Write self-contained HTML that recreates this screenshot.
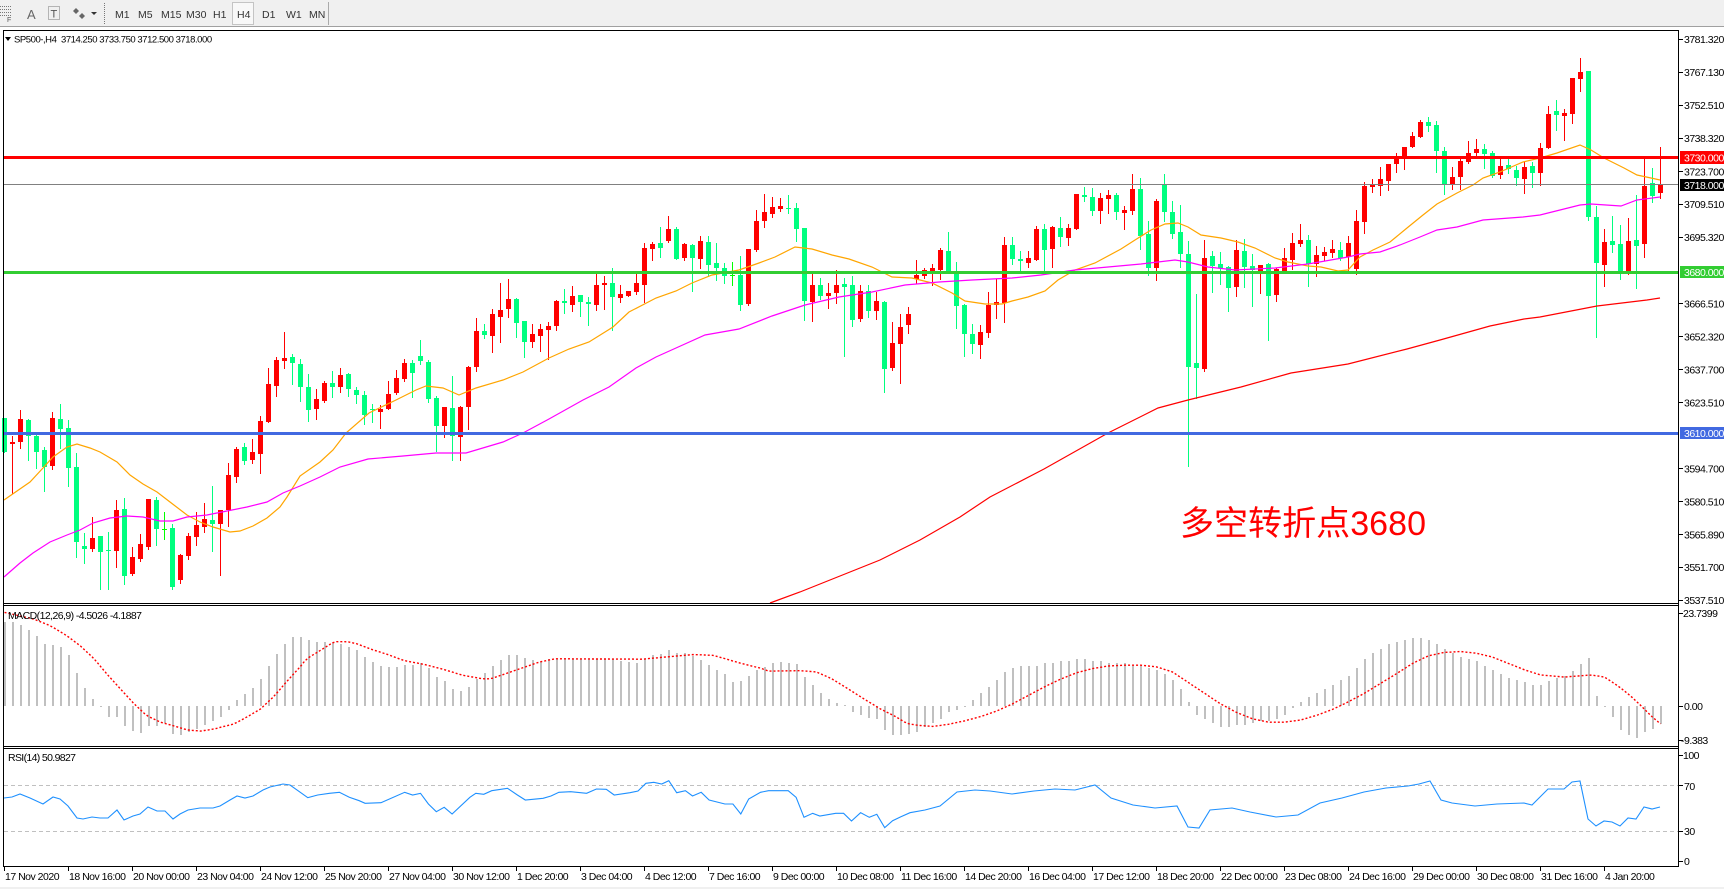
<!DOCTYPE html>
<html><head><meta charset="utf-8">
<style>
html,body{margin:0;padding:0;background:#fff;}
body{width:1724px;height:889px;overflow:hidden;}
svg text{font-family:"Liberation Sans",sans-serif;}
.ax{font-size:10.5px;letter-spacing:-0.5px;fill:#000;}
.tb{font-size:10.5px;fill:#333;}
.hd{font-size:9.5px;letter-spacing:-0.45px;fill:#000;}
</style></head><body>
<svg id="s" width="1724" height="889" viewBox="0 0 1724 889" xmlns="http://www.w3.org/2000/svg">
<rect width="1724" height="889" fill="#fff"/>
<!-- toolbar -->
<rect x="0" y="0" width="1724" height="26" fill="#f0f0f0"/>
<rect x="0" y="26" width="1724" height="1" fill="#a0a0a0"/>
<g stroke="#777" stroke-width="1" stroke-dasharray="1 1" shape-rendering="crispEdges">
<line x1="0" y1="6.5" x2="11" y2="6.5"/><line x1="0" y1="9.5" x2="11" y2="9.5"/><line x1="0" y1="12.5" x2="11" y2="12.5"/><line x1="0" y1="15.5" x2="11" y2="15.5"/>
<rect x="48.5" y="6.5" width="11" height="13" fill="none"/>
<line x1="104.5" y1="3" x2="104.5" y2="24"/>
</g>
<text x="7" y="22" font-size="7" fill="#555">F</text>
<text x="27" y="19" font-size="13" fill="#666">A</text>
<text x="50.5" y="17.5" font-size="11" fill="#555">T</text>
<polygon points="76,8 79,11 76,14 73,11" fill="#666"/><polygon points="82,13 85,16 82,19 79,16" fill="#666"/>
<polygon points="91,12 97,12 94,15" fill="#333"/>
<rect x="232.5" y="2.5" width="21" height="22" fill="#f8f8f8" stroke="#c4c4c4"/>
<text class="tb" x="115" y="18">M1</text>
<text class="tb" x="138" y="18">M5</text>
<text class="tb" x="161" y="18">M15</text>
<text class="tb" x="186" y="18">M30</text>
<text class="tb" x="213" y="18">H1</text>
<text class="tb" x="237" y="18">H4</text>
<text class="tb" x="262" y="18">D1</text>
<text class="tb" x="286" y="18">W1</text>
<text class="tb" x="309" y="18">MN</text>
<rect x="328" y="2" width="1" height="23" fill="#aaa"/>

<!-- candles -->
<g id="candles" shape-rendering="crispEdges"></g>

<!-- moving averages -->
<g fill="none" stroke-width="1.2">
<polyline stroke="#ffa500" points="4,500 30,482 43,468 53,457 67,447 77,444 90,448 100,452 117,462 130,475 143,484 157,492 170,502 187,515 200,522 213,527 230,532 240,531 253,526 267,518 280,507 287,497 300,476 320,462 333,450 346,433 369,413 396,400 416,390 426,386 443,388 459,395 476,388 503,380 523,372 549,358 569,349 589,342 613,327 629,312 656,298 676,291 692,283 712,275 739,270 759,263 775,257 795,247 812,249 832,255 849,259 872,267 892,277 912,278 932,283 952,293 965,301 985,304 1002,304 1012,301 1028,297 1045,291 1058,280 1075,270 1095,263 1121,249 1135,240 1151,230 1165,224 1178,223 1188,227 1201,235 1221,238 1238,242 1255,248 1275,258 1288,262 1308,266 1321,267 1338,271 1348,270 1360,257 1373,250 1390,242 1407,228 1423,215 1437,204 1457,193 1473,185 1483,178 1500,172 1523,162 1540,158 1557,153 1580,145 1591,150 1604,158 1624,168 1637,175 1651,178 1660,180"/>
<polyline stroke="#ff00ff" points="4,577 20,563 33,553 50,542 67,535 80,530 93,523 110,518 127,516 143,517 160,521 173,521 187,517 207,515 227,511 247,507 267,502 283,493 300,486 320,477 340,467 368,459 403,456 436,453 466,453 503,442 523,433 549,419 583,400 609,387 636,368 656,357 676,348 705,335 739,329 772,316 805,305 839,297 872,292 905,285 939,282 972,280 1012,278 1041,275 1075,270 1108,267 1141,264 1175,260 1188,262 1208,267 1235,270 1275,268 1308,264 1348,257 1360,254 1380,252 1400,245 1420,237 1437,230 1457,227 1483,220 1523,217 1540,215 1560,210 1580,205 1591,204 1621,206 1637,200 1660,197"/>
<polyline stroke="#ff0000" points="770,603 800,592 850,572 880,560 920,540 960,517 990,497 1044,469 1108,433 1158,408 1188,400 1241,387 1291,373 1348,364 1407,349 1440,340 1490,326 1524,319 1540,317 1597,306 1647,300 1660,298"/>
</g>

<!-- horizontal lines -->
<g shape-rendering="crispEdges">
<rect x="4" y="184" width="1674" height="1" fill="#808080"/>
<rect x="4" y="156" width="1674" height="3" fill="#ff0000"/>
<rect x="4" y="271" width="1674" height="3" fill="#32cd32"/>
<rect x="4" y="432" width="1674" height="3" fill="#4169e1"/>
</g>

<text x="1180" y="535" font-size="34" fill="#ff0000" textLength="246" style='font-family:"Liberation Sans","Noto Sans CJK SC",sans-serif'>多空转折点3680</text>

<!-- MACD -->
<g id="hist" shape-rendering="crispEdges"></g>
<polyline id="sig" fill="none" stroke="#ff0000" stroke-width="1.4" stroke-dasharray="2 2" points=""/>
<text x="8" y="619" font-size="10.5" textLength="134" fill="#000">MACD(12,26,9) -4.5026 -4.1887</text>

<!-- RSI -->
<g stroke="#c0c0c0" stroke-dasharray="4 3" shape-rendering="crispEdges">
<line x1="4" y1="785.5" x2="1678" y2="785.5"/>
<line x1="4" y1="831.5" x2="1678" y2="831.5"/>
</g>
<polyline fill="none" stroke="#1e90ff" stroke-width="1.1" points="4,798 12,797 20,794 30,798 43,804 53,797 60,799 68,806 77,818 83,819 92,817 100,818 108,818 117,810 124,820 133,816 140,814 148,807 157,811 165,811 173,819 180,814 188,810 200,808 213,808 220,806 230,800 237,796 245,798 253,796 263,790 270,787 283,784 290,785 298,790.7 307.8,797.7 317.7,795 329.5,793.3 339.4,792.3 349.3,797.3 359.2,800.7 365.1,803.3 381,802.7 404.7,792.3 412.6,795 420.5,793.3 428.4,804 436.3,811.7 444.2,807.3 452.1,814 469.9,797.3 475.8,793.3 483.8,794.3 491.7,790.7 507.5,788.3 517.4,795 525.3,800 543.1,798.3 551,796 558.9,792.3 570.7,791.7 586.6,793.3 596.4,789 606.3,789.3 614.2,795 630,792.7 638,791 645.9,783.3 653.8,782.3 661.7,784 668.8,780.7 676.7,792.7 685.4,790.7 692.5,796 701.2,792.3 709.1,800 724.9,804 732.9,804 740.8,814 748.7,799 760.5,792.3 768.5,790.7 788.2,790.7 796.1,797.3 804,817.3 812.7,813.3 819.8,816 835.7,813.3 843.6,813.3 851.5,821 860.6,812.7 869.3,817.3 876.8,814.3 884.7,827.7 892.6,820.7 900.9,816.7 910,812.7 925,810 940,806 957,792 975,790 990,791 1012,794 1034,791 1055,789 1075,790 1095,785 1111,798 1133,805 1155,808 1177,806 1188,827 1199,828 1210,810 1232,808 1250,812 1276,817 1298,815 1320,803 1342,798 1364,792 1386,788 1408,786 1419,784 1430,781 1441,800 1452,803 1475,806 1497,804 1524,803 1532,805 1548,789 1564,789 1572,782 1580,781 1588,819 1596,826 1604,821 1612,822 1620,826 1628,818 1636,819 1644,807 1652,809 1660,807"/>
<text x="8" y="761" font-size="10.5" textLength="68" fill="#000">RSI(14) 50.9827</text>

<!-- frames -->
<g fill="#000" shape-rendering="crispEdges">
<rect x="3" y="30" width="1676" height="1"/>
<rect x="3" y="30" width="1" height="837"/>
<rect x="1678" y="30" width="1" height="837"/>
<rect x="3" y="603" width="1676" height="1"/>
<rect x="3" y="605" width="1676" height="1"/>
<rect x="3" y="746" width="1676" height="1"/>
<rect x="3" y="748" width="1676" height="1"/>
<rect x="3" y="866" width="1676" height="1"/>
</g>

<!-- header -->
<polygon points="5,37 11,37 8,41" fill="#000"/>
<text class="hd" x="14" y="42.5">SP500-,H4</text>
<text class="hd" x="61" y="42.5">3714.250 3733.750 3712.500 3718.000</text>

<!-- price axis -->
<g fill="#000" shape-rendering="crispEdges">
<rect x="1679" y="39" width="4" height="1"/><rect x="1679" y="72" width="4" height="1"/><rect x="1679" y="105" width="4" height="1"/><rect x="1679" y="138" width="4" height="1"/><rect x="1679" y="171" width="4" height="1"/><rect x="1679" y="204" width="4" height="1"/><rect x="1679" y="237" width="4" height="1"/><rect x="1679" y="303" width="4" height="1"/><rect x="1679" y="336" width="4" height="1"/><rect x="1679" y="369" width="4" height="1"/><rect x="1679" y="402" width="4" height="1"/><rect x="1679" y="468" width="4" height="1"/><rect x="1679" y="501" width="4" height="1"/><rect x="1679" y="534" width="4" height="1"/><rect x="1679" y="567" width="4" height="1"/><rect x="1679" y="600" width="4" height="1"/>
<rect x="1679" y="613" width="4" height="1"/><rect x="1679" y="706" width="4" height="1"/><rect x="1679" y="740" width="4" height="1"/>
<rect x="1679" y="755" width="4" height="1"/><rect x="1679" y="785" width="4" height="1"/><rect x="1679" y="831" width="4" height="1"/><rect x="1679" y="861" width="4" height="1"/>
</g>
<g class="ax">
<text class="ax" x="1684" y="43">3781.320</text>
<text class="ax" x="1684" y="76">3767.130</text>
<text class="ax" x="1684" y="109">3752.510</text>
<text class="ax" x="1684" y="142">3738.320</text>
<text class="ax" x="1684" y="175.5">3723.700</text>
<text class="ax" x="1684" y="208">3709.510</text>
<text class="ax" x="1684" y="241">3695.320</text>
<text class="ax" x="1684" y="307.5">3666.510</text>
<text class="ax" x="1684" y="340.5">3652.320</text>
<text class="ax" x="1684" y="373.5">3637.700</text>
<text class="ax" x="1684" y="406.5">3623.510</text>
<text class="ax" x="1684" y="472.5">3594.700</text>
<text class="ax" x="1684" y="505.5">3580.510</text>
<text class="ax" x="1684" y="538.5">3565.890</text>
<text class="ax" x="1684" y="571">3551.700</text>
<text class="ax" x="1684" y="604">3537.510</text>
<text class="ax" x="1683" y="617">23.7399</text>
<text class="ax" x="1684" y="710">0.00</text>
<text class="ax" x="1681" y="744">-9.383</text>
<text class="ax" x="1683" y="759">100</text>
<text class="ax" x="1684" y="790">70</text>
<text class="ax" x="1684" y="835">30</text>
<text class="ax" x="1684" y="865">0</text>
</g>
<g shape-rendering="crispEdges">
<rect x="1680" y="151" width="44" height="13" fill="#ff0000"/>
<rect x="1680" y="179" width="44" height="12" fill="#000"/>
<rect x="1680" y="266" width="44" height="12" fill="#32cd32"/>
<rect x="1680" y="427" width="44" height="12" fill="#4169e1"/>
</g>
<text class="ax" x="1684" y="161.5" style="fill:#fff">3730.000</text>
<text class="ax" x="1684" y="189" style="fill:#fff">3718.000</text>
<text class="ax" x="1684" y="276" style="fill:#fff">3680.000</text>
<text class="ax" x="1684" y="437" style="fill:#fff">3610.000</text>

<!-- time axis -->
<g id="tticks" fill="#000" shape-rendering="crispEdges"></g>
<text class="ax" x="5" y="880">17 Nov 2020</text>
<text class="ax" x="69" y="880">18 Nov 16:00</text>
<text class="ax" x="133" y="880">20 Nov 00:00</text>
<text class="ax" x="197" y="880">23 Nov 04:00</text>
<text class="ax" x="261" y="880">24 Nov 12:00</text>
<text class="ax" x="325" y="880">25 Nov 20:00</text>
<text class="ax" x="389" y="880">27 Nov 04:00</text>
<text class="ax" x="453" y="880">30 Nov 12:00</text>
<text class="ax" x="517" y="880">1 Dec 20:00</text>
<text class="ax" x="581" y="880">3 Dec 04:00</text>
<text class="ax" x="645" y="880">4 Dec 12:00</text>
<text class="ax" x="709" y="880">7 Dec 16:00</text>
<text class="ax" x="773" y="880">9 Dec 00:00</text>
<text class="ax" x="837" y="880">10 Dec 08:00</text>
<text class="ax" x="901" y="880">11 Dec 16:00</text>
<text class="ax" x="965" y="880">14 Dec 20:00</text>
<text class="ax" x="1029" y="880">16 Dec 04:00</text>
<text class="ax" x="1093" y="880">17 Dec 12:00</text>
<text class="ax" x="1157" y="880">18 Dec 20:00</text>
<text class="ax" x="1221" y="880">22 Dec 00:00</text>
<text class="ax" x="1285" y="880">23 Dec 08:00</text>
<text class="ax" x="1349" y="880">24 Dec 16:00</text>
<text class="ax" x="1413" y="880">29 Dec 00:00</text>
<text class="ax" x="1477" y="880">30 Dec 08:00</text>
<text class="ax" x="1541" y="880">31 Dec 16:00</text>
<text class="ax" x="1605" y="880">4 Jan 20:00</text>
<rect x="0" y="887" width="1724" height="2" fill="#f0f0f0"/>
</svg>
<script>
(function(){
var C=[[1,418,452,418,452],[0,442,444,436,493],[0,419,442,410,448],[1,420,436,419,460],[1,436,452,433,468],[1,450,467,447,491],[0,418,466,412,469],[1,419,429,404,448],[1,428,468,420,486],[1,467,542,453,557],
[1,546,549,533,563],[0,538,549,517,551],[1,536,552,536,589],[1,550,551,532,589],[0,510,551,500,567],[1,509,576,498,584],[0,557,574,547,575],[0,544,559,534,561],[0,499,547,499,549],[1,500,529,497,545],
[2,529,530,512,539],[1,528,587,524,589],[0,555,580,554,583],[0,536,556,533,559],[0,525,537,512,545],[0,519,527,503,532],[1,520,524,486,551],[0,510,524,510,575],[0,475,510,463,526],[0,449,477,447,482],
[1,447,461,443,464],[0,452,460,439,463],[0,421,454,416,473],[0,384,422,368,422],[0,360,386,357,396],[0,358,361,332,368],[1,357,363,354,384],[1,364,387,359,401],[1,387,410,374,421],[0,399,409,389,419],
[0,383,401,381,402],[1,383,387,371,397],[0,375,387,368,392],[1,374,389,373,396],[1,390,395,387,403],[1,395,415,391,424],[1,409,410,404,422],[0,409,412,405,428],[0,394,409,381,409],[0,378,393,370,394],
[0,363,379,359,381],[1,363,373,360,397],[1,356,361,340,364],[1,362,399,360,402],[1,398,426,396,451],[0,407,426,407,437],[1,408,436,376,460],[0,407,437,406,460],[0,367,407,366,429],[0,331,367,318,371],
[1,331,335,324,338],[0,314,336,309,352],[0,310,317,283,342],[0,299,309,279,317],[1,299,323,298,337],[1,321,342,321,357],[0,334,342,324,347],[0,329,336,324,351],[0,326,330,322,359],[0,301,326,300,330],
[1,301,303,289,313],[0,296,305,286,311],[1,295,302,295,316],[1,302,304,297,325],[0,285,305,274,310],[0,283,285,276,309],[1,283,297,268,330],[0,294,298,285,302],[0,291,296,291,296],[0,283,292,273,294],
[0,248,285,243,302],[0,244,249,242,260],[1,243,248,227,257],[0,229,241,216,242],[1,229,259,227,259],[0,244,258,243,260],[1,245,258,244,291],[0,241,259,236,268],[1,242,265,236,276],[1,263,268,243,280],
[1,268,276,263,283],[2,275,276,262,285],[1,275,305,256,310],[0,249,304,249,305],[0,221,250,210,251],[0,212,221,194,227],[0,207,214,197,217],[0,206,209,198,211],[1,208,209,195,213],[1,208,229,203,241],
[1,228,301,228,320],[0,285,302,273,321],[1,285,296,278,299],[0,293,296,283,308],[0,285,293,270,303],[1,284,287,278,356],[1,285,320,276,326],[0,291,319,285,321],[1,291,311,285,317],[0,301,311,292,319],
[1,302,369,301,392],[0,343,368,322,370],[0,327,344,314,383],[0,314,325,307,333],[0,275,279,260,283],[0,270,276,268,278],[0,268,272,264,285],[0,250,270,248,279],[1,251,271,232,272],[1,272,306,262,328],
[1,305,334,304,356],[1,334,344,324,353],[0,332,345,325,358],[0,305,333,292,337],[0,302,305,279,318],[0,245,303,237,322],[1,245,259,237,264],[1,259,261,251,271],[0,258,263,251,267],[0,229,260,226,260],
[1,229,250,224,271],[0,227,249,226,267],[1,228,237,217,246],[0,228,238,224,245],[0,194,229,194,229],[1,195,197,187,201],[1,197,211,188,215],[0,198,211,193,223],[0,195,199,190,213],[1,195,212,193,219],
[0,210,213,206,229],[0,189,211,174,214],[1,189,236,178,249],[1,234,268,221,275],[0,201,268,199,280],[1,184,212,174,221],[1,212,234,201,238],[1,232,254,205,267],[1,254,367,241,466],[1,363,368,294,398],
[0,258,369,240,371],[1,256,266,251,292],[1,264,268,252,284],[1,267,288,266,311],[0,250,287,240,296],[1,251,267,239,287],[1,266,270,254,306],[0,265,271,265,293],[1,264,296,263,340],[0,269,295,268,301],
[0,258,271,248,271],[0,243,260,233,269],[0,240,244,224,246],[1,240,264,235,286],[0,255,264,246,276],[0,252,256,247,260],[0,249,253,240,257],[1,250,258,242,260],[0,243,257,236,273],[0,221,269,210,274],
[0,186,222,182,233],[0,185,187,179,192],[0,179,186,167,195],[0,164,181,164,190],[0,157,164,153,172],[0,147,157,147,169],[0,136,147,132,147],[0,122,137,120,137],[1,122,126,117,131],[1,125,151,121,172],
[1,151,184,147,194],[0,177,184,167,189],[0,161,177,157,189],[0,153,162,141,163],[0,149,153,139,156],[1,149,154,144,168],[1,153,176,151,177],[0,166,175,159,178],[1,165,169,159,173],[1,170,178,166,185],
[0,167,179,162,193],[1,166,173,162,187],[0,148,173,143,185],[0,114,148,106,148],[1,111,115,100,130],[0,113,116,109,140],[0,78,114,78,123],[0,72,79,58,91],[1,71,217,71,220],[1,217,263,206,337],
[0,242,265,229,286],[1,241,245,216,252],[1,244,272,225,279],[0,241,272,218,274],[1,240,246,195,288],[0,186,244,159,257],[1,183,196,168,202],[0,185,193,147,198]];
var col=['#ff0000','#00ff7f','#00ff00'];
var s='';
for(var k=0;k<C.length;k++){var c=C[k],x=4+8*k,f=col[c[0]];
 s+='<rect x="'+x+'" y="'+c[3]+'" width="1" height="'+(c[4]-c[3]+1)+'" fill="'+f+'"/>';
 var h=c[2]-c[1]; if(h<1)h=1;
 s+='<rect x="'+(x-2)+'" y="'+c[1]+'" width="5" height="'+h+'" fill="'+f+'"/>';}
document.getElementById('candles').innerHTML=s;

var H=[19.7,19.7,19,17.8,16.5,14.6,14.3,13.9,12,7.8,4.2,1.6,-0.3,-2.6,-2.6,-4.7,-5.9,-6.3,-4.7,-4.7,-4,-6.6,-6.8,-6.1,-5.4,-4.5,-3.5,-2.6,-0.9,1.4,2.8,4.2,6.3,9.4,12.2,14.6,16.2,16.2,15.5,15,15,14.9,14.5,13.9,13.2,11.5,10.3,9.4,9.1,9.1,9.6,9.6,10.2,8.9,6.8,5.9,3.9,3.5,4.5,6.3,7.7,9.4,10.7,11.9,11.9,11.2,10.7,10.4,11.1,11.1,11.1,11.1,11.1,11.1,11.1,11.1,11,10.6,10.3,10.1,11.1,11.9,12.2,13.2,12.4,12.5,11.8,10.7,9.7,8.5,7.5,5.7,5.9,7.1,8.4,9.2,10,10.4,10.2,9.9,6.8,4.9,3,1.6,0.6,0.2,-1.4,-2,-2.9,-3,-5.6,-6.8,-6.8,-6.5,-6,-5,-4,-3,-1.5,-1,0,1.5,3,4.5,6,8,9,9.5,9.5,9.5,10,10,10.5,10.5,11,11,10.5,10.5,10,10,10,9.5,9.5,9,8.5,7.5,6,4,1,-2,-3,-4,-5,-5,-4.5,-4.5,-4,-3.5,-3.5,-3,-2,-0.5,1,2,3,4,5,6,7,9,11,12.5,13.5,14.5,15,15.5,16,16,15.5,14.5,13.5,12.5,11.5,11,10.5,9.5,8.5,7.5,6.5,6,5.6,4.9,4.9,5.9,6.6,7.1,8.2,9.9,11.3,2.3,0.1,-2.6,-5.6,-6.8,-7.5,-6.1,-5.4,-4.2];
var Z=706,P=4.255;s='';
for(var k=0;k<H.length;k++){var x=4+8*k,y=Math.round(Z-H[k]*P);var t=Math.min(y,Z),hh=Math.abs(y-Z);if(hh<1)hh=1;
 s+='<rect x="'+x+'" y="'+t+'" width="2" height="'+hh+'" fill="#c0c0c0"/>';}
document.getElementById('hist').innerHTML=s;

var S=[[0,22],[3.7,20.4],[5.8,18.8],[7.8,16.5],[9.5,14.1],[11.2,11.1],[12.8,7.5],[14.5,4],[16.2,0.5],[17.8,-2.3],[19.5,-3.8],[21.2,-4.7],[22.8,-5.6],[24.5,-5.9],[26.2,-5.4],[28.7,-4.2],[30.3,-2.6],[32,-0.7],[33.7,2.3],[35.3,5.8],[37,9.3],[37.7,11],[40.2,13.9],[41.2,15.1],[42.9,15.1],[43.9,14.7],[45.9,13.3],[47.9,12.1],[49.9,10.7],[52.4,9.8],[54.9,8.6],[57.3,7.2],[59.8,6.4],[60.8,6.4],[62.8,7.7],[64.8,9],[66.8,10.3],[68.8,11.1],[79.7,11],[82.6,11.5],[86.1,12.1],[88.6,11.9],[90.1,11.1],[92.1,10],[94.5,8.9],[95.5,8.2],[99.5,8.3],[101.5,8],[103.4,6.4],[105.4,4.1],[107.4,1.7],[109.4,-0.6],[111.4,-2.5],[112.8,-4.1],[114,-4.5],[116,-4.8],[118,-4.3],[120,-3.5],[122,-2.5],[124,-1.2],[126,0.5],[128,2.5],[130,4.5],[132,6.3],[134,7.8],[136,8.8],[138,9.4],[140,9.6],[142,9.6],[144,9.2],[146,8],[148,5.5],[150,3],[152,0.5],[154,-1.5],[156,-3],[158,-3.8],[160,-3.8],[162,-3.3],[164,-2.2],[166,-0.8],[168,1],[170,3],[172,5.3],[174,7.6],[176,10],[178,11.8],[180,12.6],[182,12.8],[184,12.4],[186,11.5],[188,10],[190,8.5],[192,7.3],[195,6.8],[198.3,7.3],[200,6.8],[201.7,4.7],[203.3,2.3],[204.6,0],[205.8,-2.3],[207,-4.2]];
function ip(k){for(var i=0;i<S.length-1;i++){if(k<=S[i+1][0]){var t=(k-S[i][0])/(S[i+1][0]-S[i][0]);return S[i][1]+t*(S[i+1][1]-S[i][1]);}}return S[S.length-1][1];}
var pts=[];for(var k=0;k<=207;k+=0.5){pts.push((4.5+8*k).toFixed(1)+','+(Z-ip(k)*P).toFixed(1));}
document.getElementById('sig').setAttribute('points',pts.join(' '));

s='';for(var j=0;j<26;j++){s+='<rect x="'+(4+64*j)+'" y="866" width="1" height="5"/>';}
document.getElementById('tticks').innerHTML=s;
})();
</script>
</body></html>
